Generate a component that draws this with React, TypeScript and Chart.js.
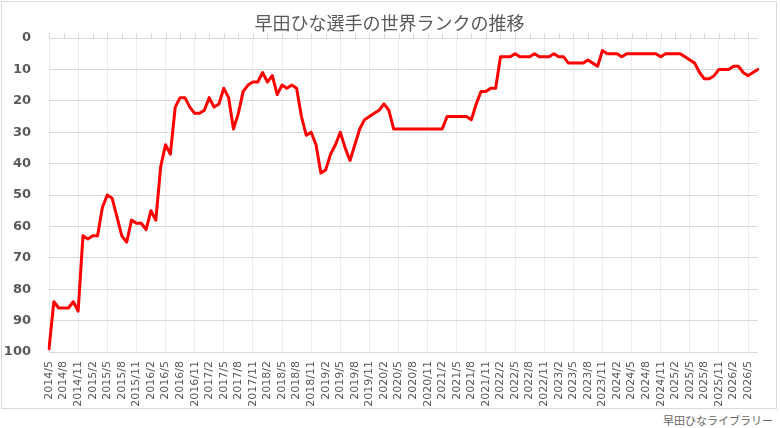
import { useEffect, useRef } from 'react';
import { Chart, registerables } from 'chart.js';

Chart.register(...registerables);

// World ranking, monthly from 2014/5
const ranks = [
  99, 84, 86, 86, 86, 84, 87, 63, 64, 63, 63, 54, 50, 51, 57, 63, 65, 58, 59, 59,
  61, 55, 58, 41, 34, 37, 22, 19, 19, 22, 24, 24, 23, 19, 22, 21, 16, 19, 29, 24,
  17, 15, 14, 14, 11, 14, 12, 18, 15, 16, 15, 16, 25, 31, 30, 34, 43, 42, 37, 34,
  30, 35, 39, 34, 29, 26, 25, 24, 23, 21, 23, 29, 29, 29, 29, 29, 29, 29, 29, 29,
  29, 29, 25, 25, 25, 25, 25, 26, 21, 17, 17, 16, 16, 6, 6, 6, 5, 6, 6, 6,
  5, 6, 6, 6, 5, 6, 6, 8, 8, 8, 8, 7, 8, 9, 4, 5, 5, 5, 6, 5,
  5, 5, 5, 5, 5, 5, 6, 5, 5, 5, 5, 6, 7, 8, 11, 13, 13, 12, 10, 10,
  10, 9, 9, 11, 12, 11, 10,
];

const firstYear = 2014;
const firstMonth = 5;
const months = ranks.map((_, i) => {
  const m = firstMonth - 1 + i;
  return `${firstYear + Math.floor(m / 12)}/${(m % 12) + 1}`;
});

const titleText = '早田ひな選手の世界ランクの推移';
const footerText = '早田ひなライブラリー';

const topTicks = {
  id: 'topTicks',
  afterDraw(chart: any) {
    const { ctx, chartArea, scales } = chart;
    const x = scales.x;
    ctx.save();
    ctx.strokeStyle = '#d9d9d9';
    ctx.lineWidth = 1;
    for (let i = 0; i < months.length; i += 3) {
      const px = Math.round(x.getPixelForValue(i)) + 0.5;
      ctx.beginPath();
      ctx.moveTo(px, chartArea.top - 5);
      ctx.lineTo(px, chartArea.top);
      ctx.stroke();
    }
    ctx.restore();
  },
};

export default function App() {
  const ref = useRef<HTMLCanvasElement | null>(null);

  useEffect(() => {
    document.body.style.margin = '0';
    if (!ref.current) return;
    const chart = new Chart(ref.current, {
      type: 'line',
      data: {
        labels: months,
        datasets: [
          {
            data: ranks,
            borderColor: '#ff0000',
            borderWidth: 3,
            pointRadius: 0,
            tension: 0,
            borderJoinStyle: 'round',
            borderCapStyle: 'round',
          },
        ],
      },
      options: {
        animation: false,
        responsive: false,
        maintainAspectRatio: false,
        layout: { padding: { top: 38, right: 15, left: 0, bottom: 0 } },
        plugins: {
          legend: { display: false },
          tooltip: { enabled: false },
          title: { display: false },
        },
        scales: {
          x: {
            type: 'category',
            offset: false,
            border: { display: false },
            grid: {
              drawTicks: false,
              color: (c: any) => (c.index % 6 === 0 ? '#ebebeb' : 'rgba(0,0,0,0)'),
              lineWidth: 1,
            },
            ticks: {
              autoSkip: false,
              minRotation: 90,
              maxRotation: 90,
              padding: 9,
              color: '#595959',
              font: { family: 'DejaVu Sans', size: 11 },
              callback: (_v: any, index: number) => (index % 3 === 0 ? months[index] : ''),
            },
            afterFit: (scale: any) => {
              scale.height = 58;
            },
          },
          y: {
            reverse: true,
            min: 0,
            max: 100,
            border: { display: false },
            grid: { drawTicks: false, color: '#d9d9d9', lineWidth: 1 },
            ticks: {
              stepSize: 10,
              padding: 18,
              color: '#595959',
              font: { family: 'DejaVu Sans', size: 13, weight: 'bold' },
            },
            afterFit: (scale: any) => {
              scale.width = 49;
            },
          },
        },
      },
      plugins: [topTicks],
    });
    return () => chart.destroy();
  }, []);

  return (
    <div style={{ position: 'relative', width: 780, height: 428, background: '#fff', overflow: 'hidden' }}>
      <div
        style={{
          position: 'absolute',
          left: 1,
          top: 1,
          width: 776,
          height: 408,
          border: '1px solid #d9d9d9',
          boxSizing: 'border-box',
        }}
      />
      <canvas ref={ref} width={780} height={410} style={{ position: 'absolute', left: 0, top: 0, width: 780, height: 410 }} />
      <div
        style={{
          position: 'absolute',
          left: 0,
          top: 10,
          width: 779,
          textAlign: 'center',
          fontFamily: '"Noto Sans CJK JP", sans-serif',
          fontSize: 18,
          lineHeight: '24px',
          color: '#595959',
        }}
      >
        {titleText}
      </div>
      <div
        style={{
          position: 'absolute',
          right: 7,
          top: 412,
          fontFamily: '"Noto Sans CJK JP", sans-serif',
          fontSize: 11,
          lineHeight: '16px',
          color: '#666666',
        }}
      >
        {footerText}
      </div>
    </div>
  );
}
